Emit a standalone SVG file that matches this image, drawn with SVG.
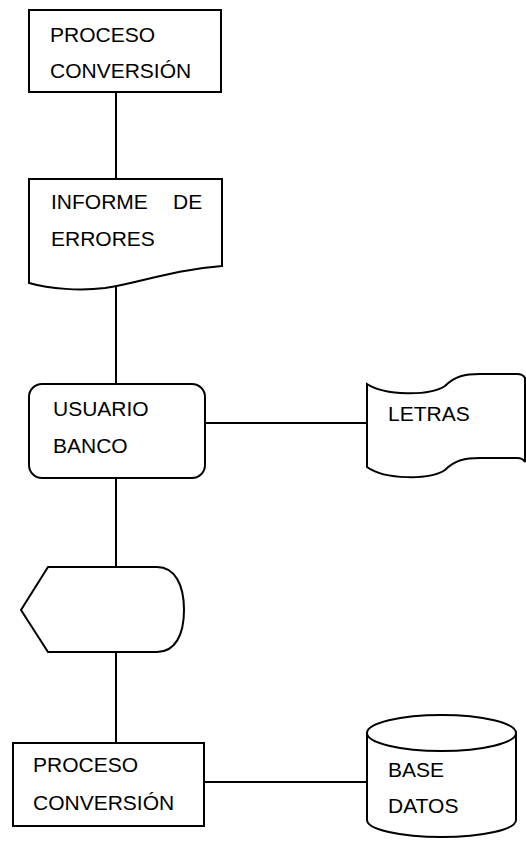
<svg xmlns="http://www.w3.org/2000/svg" width="526" height="842" viewBox="0 0 526 842">
<style>
.s{fill:#fff;stroke:#000;stroke-width:2;stroke-linejoin:miter}
.c{fill:none;stroke:#000;stroke-width:2}
text{font-family:"Liberation Sans",Arial,sans-serif;font-size:21px;fill:#000}
</style>
<rect width="526" height="842" fill="#fff"/>
<g id="connectors">
<line class="c" x1="116" y1="92" x2="116" y2="179"/>
<line class="c" x1="116" y1="287" x2="116" y2="384"/>
<line class="c" x1="116" y1="478" x2="116" y2="567"/>
<line class="c" x1="116" y1="652" x2="116" y2="743"/>
<line class="c" x1="205" y1="423" x2="367" y2="423"/>
<line class="c" x1="204" y1="782" x2="367" y2="782"/>
</g>
<g id="proceso1">
<rect class="s" x="29" y="10" width="192" height="82"/>
<text x="50" y="42">PROCESO</text>
<text x="50" y="78">CONVERSIÓN</text>
</g>
<g id="informe">
<path class="s" d="M29,179 L222,179 L222,266 C170,270 140,283 105,288 C80,291 50,289 29,283 Z"/>
<text x="51" y="209">INFORME<tspan x="173">DE</tspan></text>
<text x="51" y="246">ERRORES</text>
</g>
<g id="usuario">
<rect class="s" x="29" y="384" width="176" height="94" rx="13" ry="13"/>
<text x="53" y="416">USUARIO</text>
<text x="53" y="453">BANCO</text>
</g>
<g id="letras">
<path class="s" d="M367,384 C385,396 430,396 445,386 C455,376 465,374 480,374 L517,374 C521,374 524,376 525,378 L525,462 C524,460 521,458 517,458 L480,458 C465,458 455,460 445,470 C430,480 385,480 367,467 Z"/>
<text x="388" y="421">LETRAS</text>
</g>
<g id="display">
<path class="s" d="M48,567 L157,567 C175,567 184,585 184,610 C184,635 175,652 157,652 L48,652 L21,610 Z"/>
</g>
<g id="proceso2">
<rect class="s" x="13" y="743" width="191" height="83"/>
<text x="33" y="772">PROCESO</text>
<text x="33" y="810">CONVERSIÓN</text>
</g>
<g id="basedatos">
<path class="s" d="M367,733 L367,820 A74.5,17 0 0 0 516,820 L516,733 A74.5,18 0 0 0 367,733 Z"/>
<path class="c" d="M367,733 A74.5,18 0 0 0 516,733"/>
<text x="388" y="777">BASE</text>
<text x="388" y="813">DATOS</text>
</g>
</svg>
